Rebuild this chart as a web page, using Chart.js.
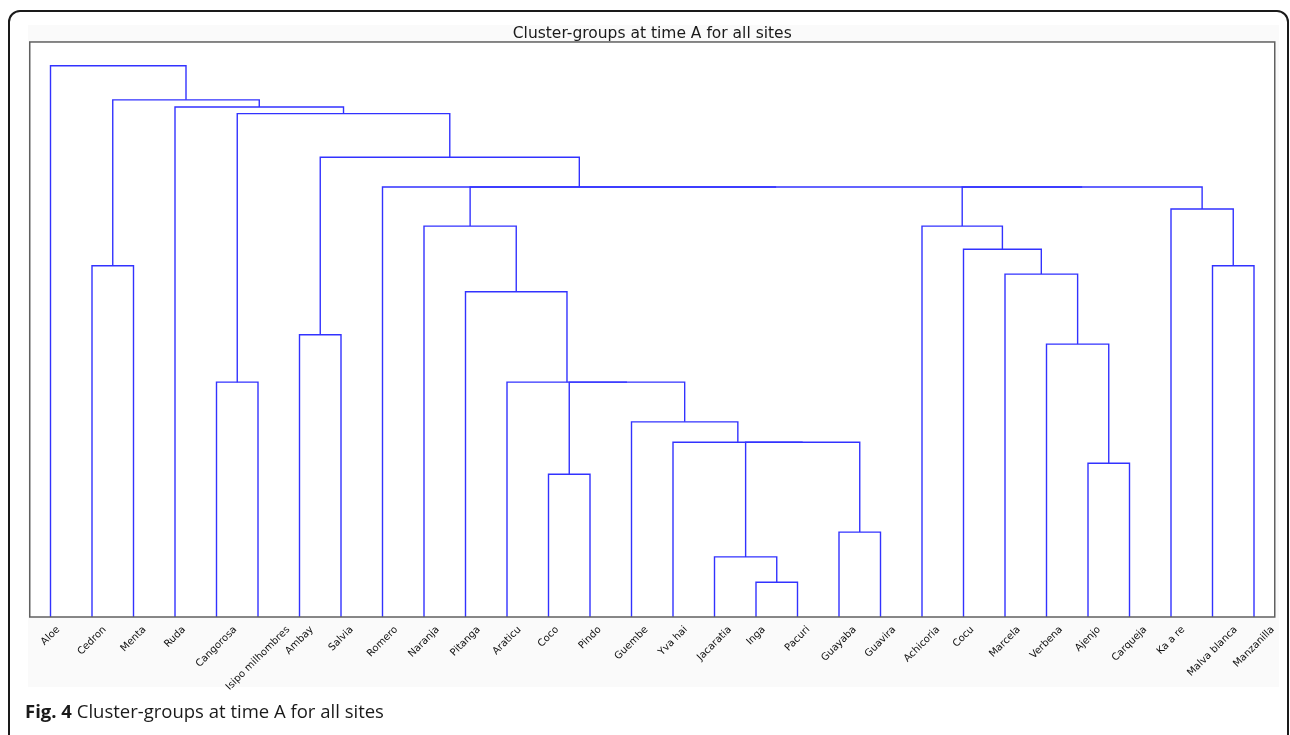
<!DOCTYPE html>
<html>
<head>
<meta charset="utf-8">
<script src="https://cdn.jsdelivr.net/npm/chart.js@4.4.1/dist/chart.umd.min.js"></script>
<style>
  html, body { margin: 0; padding: 0; background: #fff; width: 1290px; height: 735px; overflow: hidden; }
  #card { position: absolute; left: 8px; top: 10px; width: 1281px; height: 760px; border: 2px solid #1a1a1a; border-radius: 12px; box-sizing: border-box; }
  #figBg { position: absolute; left: 28px; top: 25px; width: 1251px; height: 662px; background: #fafafa; }
  #fig { position: absolute; left: 28px; top: 25px; width: 1251px; height: 680px; }
  #caption { position: absolute; left: 25px; top: 698px; font-family: "Open Sans"; font-size: 18.5px; color: #1a1a1a; white-space: nowrap; }
  #caption b { font-weight: 700; }
</style>
</head>
<body>
<div id="card"></div>
<div id="figBg"></div>
<div id="fig"><canvas id="dendroChart"></canvas></div>
<div id="caption"><b>Fig. 4</b> Cluster-groups at time A for all sites</div>

<script>
// leaves, in the order the dendrogram shows them
const leafNames = ['Aloe', 'Cedron', 'Menta', 'Ruda', 'Cangorosa', 'Isipo milhombres', 'Ambay', 'Salvia',
    'Romero', 'Naranja', 'Pitanga', 'Araticu', 'Coco', 'Pindo', 'Guembe', 'Yva hai', 'Jacaratia', 'Inga',
    'Pacuri', 'Guayaba', 'Guavira', 'Achicoria', 'Cocu', 'Marcela', 'Verbena', 'Ajenjo', 'Carqueja',
    'Ka a re', 'Malva blanca', 'Manzanilla'];

// linkage: merge k joins nodes linkA[k] and linkB[k] (0-29 = leaves, 30+k = merge k) at linkHeight[k]
const linkA = [17, 16, 19, 12, 25, 31, 15, 14, 33, 11, 4, 24, 6, 10, 23, 1, 28, 22, 9, 21, 27, 49, 48, 8, 42, 40, 3, 45, 0];
const linkB = [18, 30, 20, 13, 26, 32, 35, 36, 37, 38, 5, 34, 7, 39, 41, 2, 29, 44, 43, 47, 46, 50, 51, 52, 53, 54, 55, 56, 57];
const linkHeight = [0.63, 1.09, 1.54, 2.59, 2.79, 3.17, 3.17, 3.54, 4.26, 4.26, 4.26, 4.95, 5.12, 5.90, 6.22,
    6.37, 6.37, 6.67, 7.09, 7.09, 7.40, 7.80, 7.80, 7.80, 8.34, 9.13, 9.25, 9.38, 10.00];

const lineColor = 'rgb(50, 50, 255)';

// leaves sit at 5, 15, 25 ... like scipy's dendrogram
const nodeX = leafNames.map((_, i) => 5 + 10 * i);
const nodeH = leafNames.map(() => 0);

const datasets = linkA.map((a, k) => {
    const b = linkB[k];
    const h = linkHeight[k];
    nodeX.push((nodeX[a] + nodeX[b]) / 2);
    nodeH.push(h);
    return {
        data: [
            { x: nodeX[a], y: nodeH[a] },
            { x: nodeX[a], y: h },
            { x: nodeX[b], y: h },
            { x: nodeX[b], y: nodeH[b] }
        ],
        showLine: true,
        borderColor: lineColor,
        borderWidth: 1.4,
        pointRadius: 0,
        tension: 0
    };
});

// white plot area, frame and 45 degree leaf labels centred on their ticks
const dendroFrame = {
    id: 'dendroFrame',
    beforeDraw(chart) {
        const { ctx, chartArea: ca } = chart;
        ctx.save();
        ctx.fillStyle = '#fff';
        ctx.fillRect(ca.left, ca.top, ca.right - ca.left, ca.bottom - ca.top);
        ctx.restore();
    },
    afterDraw(chart) {
        const { ctx, chartArea: ca } = chart;
        const xScale = chart.scales.x;
        ctx.save();
        ctx.strokeStyle = '#606060';
        ctx.lineWidth = 1.5;
        ctx.strokeRect(ca.left, ca.top, ca.right - ca.left, ca.bottom - ca.top);

        ctx.font = '10px "DejaVu Sans"';
        ctx.fillStyle = '#111';
        ctx.textAlign = 'center';
        ctx.textBaseline = 'middle';
        leafNames.forEach((name, i) => {
            const tx = xScale.getPixelForValue(5 + 10 * i);
            const w = ctx.measureText(name).width;
            const d = (w + 11.5) * Math.SQRT1_2;
            ctx.save();
            ctx.translate(tx, ca.bottom + 7 + d / 2);
            ctx.rotate(-Math.PI / 4);
            ctx.fillText(name, 0, 0);
            ctx.restore();
        });
        ctx.restore();
    }
};

const dendroCtx = document.getElementById('dendroChart').getContext('2d');
const dendroChart = new Chart(dendroCtx, {
    type: 'scatter',
    data: { datasets: datasets },
    options: {
        responsive: true,
        maintainAspectRatio: false,
        animation: false,
        devicePixelRatio: 1,
        layout: { padding: { left: 1.75, right: 4.25, top: 0, bottom: 88 } },
        plugins: {
            legend: { display: false },
            tooltip: { enabled: false },
            title: {
                display: true,
                text: 'Cluster-groups at time A for all sites',
                color: '#1a1a1a',
                font: { family: 'DejaVu Sans', size: 15.5, weight: 'normal', lineHeight: 1.05 },
                padding: { top: 0.5, bottom: 0.2 }
            }
        },
        scales: {
            x: { type: 'linear', min: 0, max: 300, display: false },
            y: { type: 'linear', min: 0, max: 10.43, display: false }
        }
    },
    plugins: [dendroFrame]
});
</script>
</body>
</html>
